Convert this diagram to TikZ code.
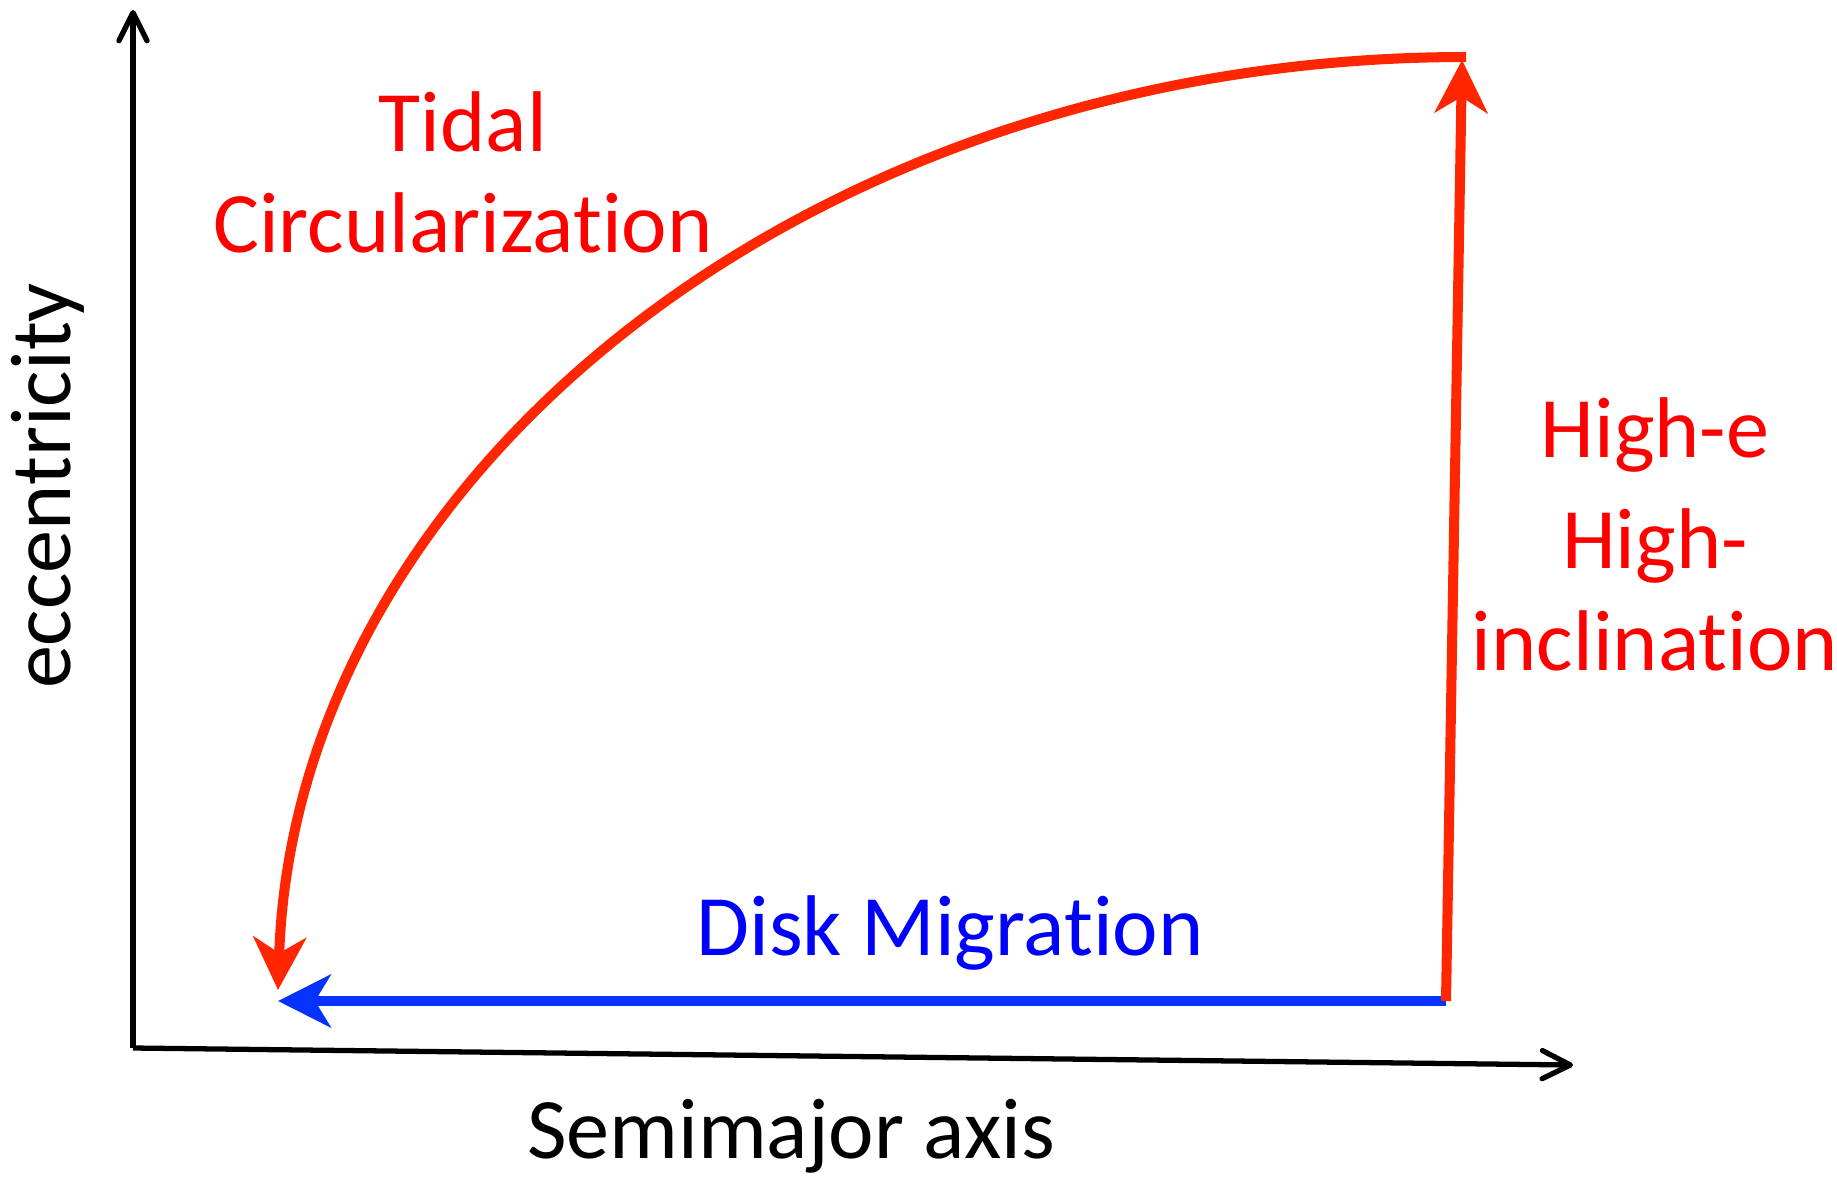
\documentclass[tikz,border=0pt]{standalone}
\usepackage{fontspec}
\setmainfont{Carlito}[Ligatures={NoCommon,NoRare}]
\usetikzlibrary{arrows.meta}
\definecolor{trackred}{HTML}{FF2600}
\definecolor{trackblue}{HTML}{0433FF}

\begin{document}
\begin{tikzpicture}[x=0.01cm,y=-0.01cm,>={Stealth[length=15pt,width=15pt,inset=4.5pt]},
		axis line/.style={line width=1.5pt,-{Straight Barb[length=8pt,width=8pt,round]}},
		track/.style={line width=2.85pt,->},
		label text/.style={font=\fontsize{24.5}{30}\selectfont,anchor=base}]
		
		\useasboundingbox (0,0) rectangle (1837,1179);
		
		\coordinate (origin) at (133,1048);
		\coordinate (ytop) at (133,10);
		\coordinate (xend) at (1573,1065);
		\coordinate (far) at (1446,1001);
		\coordinate (near) at (278,1001);
		\coordinate (peak) at (1462,60);
		\coordinate (bend) at (1466,57);
		\coordinate (close) at (278,990);
		
		% axes
		\draw[axis line] (origin) -- (ytop);
		\draw[axis line] (origin) -- (xend);
		
		% tracks
		\draw[track,trackblue] (far) -- (near);
		\draw[track,trackred] (far) -- (peak);
		\draw[track,trackred] (bend) .. controls (810,57) and (295,475) .. (close);
		
		\node[label text,text=red](tidal) at (463,152){Tidal};
		\node[label text,text=red](circ) at (463,252){Circularization};
		\node[label text,text=red](highe) at (1655,457){High-e};
		\node[label text,text=red](highi) at (1655,568){High-};
		\node[label text,text=red](incl) at (1655,670){inclination};
		\node[label text,text=blue](disk) at (950,955){Disk Migration};
		\node[label text](semi) at (791,1158){Semimajor axis};
		\node[label text,rotate=90](ecc) at (70,486){eccentricity};
		
	\end{tikzpicture}
\end{document}
